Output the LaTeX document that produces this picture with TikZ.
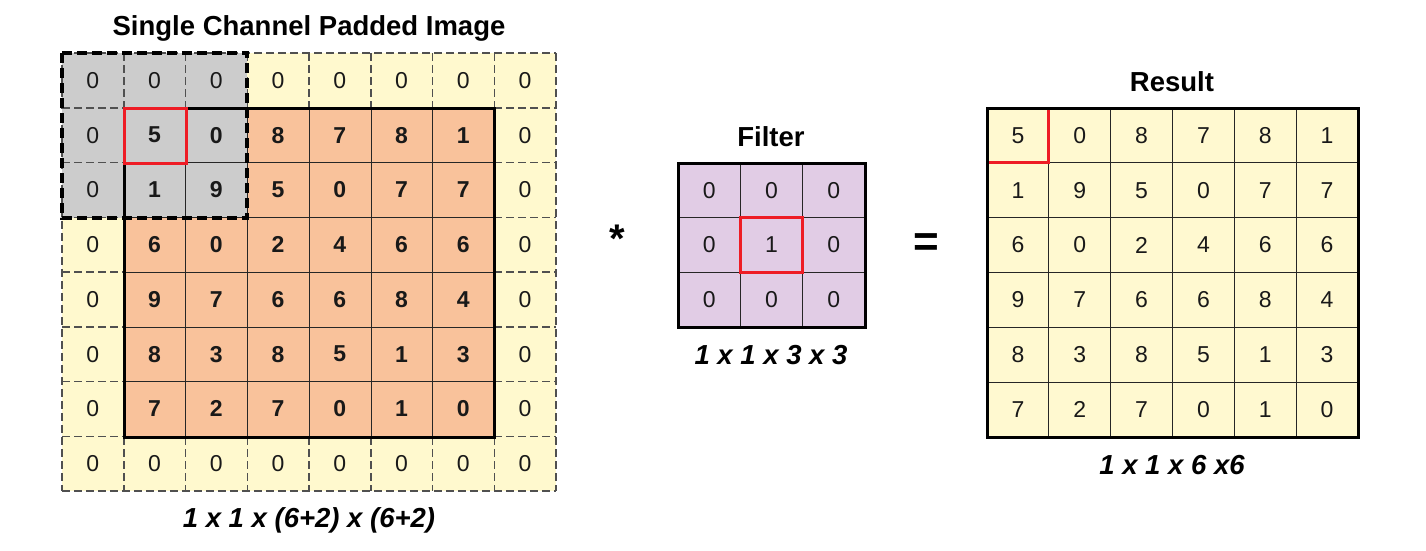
\documentclass[tikz,border=0pt]{standalone}
\usepackage{fontspec}
\setmainfont{Liberation Sans}
\definecolor{padyel}{HTML}{FFF9CE}
\definecolor{inorg}{HTML}{F9C29B}
\definecolor{wingray}{HTML}{CCCCCC}
\definecolor{filpur}{HTML}{E1CCE5}
\definecolor{resyel}{HTML}{FFF9D0}
\definecolor{redbox}{HTML}{EE1C25}
\definecolor{dashgray}{HTML}{505050}
\tikzset{
  thingrid/.style={draw=black!85, line width=0.9pt},
  dashgrid/.style={draw=dashgray, line width=1.5pt, dash pattern=on 8pt off 4pt},
  thickborder/.style={draw=black, line width=3pt},
  winborder/.style={draw=black, line width=3.2pt, dash pattern=on 10pt off 5pt},
  redsel/.style={draw=redbox, line width=3pt},
  numtxt/.style={font=\fontsize{23}{26}\selectfont, text=black!90, inner sep=0pt},
  boldnum/.style={numtxt, font=\fontsize{23}{26}\selectfont\bfseries},
  titletxt/.style={font=\fontsize{27.5}{31}\selectfont\bfseries, inner sep=0pt},
  dimtxt/.style={font=\fontsize{27.5}{31}\selectfont\bfseries\itshape, inner sep=0pt},
}
\begin{document}
\begin{tikzpicture}[x=1pt,y=-1pt]
\useasboundingbox (0,0) rectangle (1426,551);
% ---------------- padded image ----------------
\def\pw{61.75}\def\ph{54.75}
\fill[padyel] (62,53) rectangle (556,491);
\fill[inorg] (124,108) rectangle (494,437);
\fill[wingray] (62,53) rectangle (247,218);
% dashed grid (padding)
\foreach \i in {0,...,8} {
  \draw[dashgrid] ({62+\i*\pw},53) -- ({62+\i*\pw},491);
  \draw[dashgrid] (62,{53+\i*\ph}) -- (556,{53+\i*\ph});
}
% solid inner grid
\fill[inorg] (125,109) rectangle (493,436);
\fill[wingray] (125,109) rectangle (247,218);
\foreach \i in {1,...,5} {
  \draw[thingrid] ({124+\i*\pw},108) -- ({124+\i*\pw},437);
  \draw[thingrid] (124,{108+\i*\ph}) -- (494,{108+\i*\ph});
}
\draw[thickborder] (124,108) rectangle (494,437);
% numbers
\foreach \c in {0,...,7} {
  \node[numtxt] (pt\c) at ({62+(\c+0.5)*\pw},{53+0.5*\ph}) {0};
  \node[numtxt] (pb\c) at ({62+(\c+0.5)*\pw},{53+7.5*\ph}) {0};
}
\foreach \r in {1,...,6} {
  \node[numtxt] (pl\r) at ({62+0.5*\pw},{53+(\r+0.5)*\ph}) {0};
  \node[numtxt] (pr\r) at ({62+7.5*\pw},{53+(\r+0.5)*\ph}) {0};
}
\foreach \row [count=\r] in {{5,0,8,7,8,1},{1,9,5,0,7,7},{6,0,2,4,6,6},{9,7,6,6,8,4},{8,3,8,5,1,3},{7,2,7,0,1,0}} {
  \foreach \v [count=\c] in \row {
    \node[boldnum] (pi\r-\c) at ({62+(\c+0.5)*\pw},{53+(\r+0.5)*\ph}) {\v};
  }
}
\draw[winborder] (62,53) rectangle (247,218);
\draw[redsel] (124,108) rectangle (186,163);
\node[titletxt] (ptitle) at (309,28) {Single Channel Padded Image};
\node[dimtxt] (pdim) at (309,520) {1 x 1 x (6+2) x (6+2)};
% ---------------- operator signs ----------------
\node[font=\fontsize{40}{44}\selectfont\bfseries, inner sep=0pt] (star) at (617,239) {*};
\node[font=\fontsize{44}{48}\selectfont\bfseries, inner sep=0pt] (eq) at (926,245) {=};
% ---------------- filter ----------------
\def\fw{62.33}\def\fh{54.67}
\fill[filpur] (678,163) rectangle (865,327);
\foreach \i in {1,2} {
  \draw[thingrid] ({678+\i*\fw},163) -- ({678+\i*\fw},327);
  \draw[thingrid] (678,{163+\i*\fh}) -- (865,{163+\i*\fh});
}
\draw[thickborder] (678,163) rectangle (865,327);
\foreach \row [count=\r from 0] in {{0,0,0},{0,1,0},{0,0,0}} {
  \foreach \v [count=\c from 0] in \row {
    \node[numtxt] (f\r-\c) at ({678+(\c+0.5)*\fw},{163+(\r+0.5)*\fh}) {\v};
  }
}
\draw[redsel] ({678+\fw},{163+\fh}) rectangle ({678+2*\fw},{163+2*\fh});
\node[titletxt] (ftitle) at (771,137) {Filter};
\node[dimtxt] (fdim) at (771,355) {1 x 1 x 3 x 3};
% ---------------- result ----------------
\def\rw{61.83}\def\rh{54.83}
\fill[resyel] (987,108) rectangle (1358,437);
\foreach \i in {1,...,5} {
  \draw[thingrid] ({987+\i*\rw},108) -- ({987+\i*\rw},437);
  \draw[thingrid] (987,{108+\i*\rh}) -- (1358,{108+\i*\rh});
}
\foreach \row [count=\r from 0] in {{5,0,8,7,8,1},{1,9,5,0,7,7},{6,0,2,4,6,6},{9,7,6,6,8,4},{8,3,8,5,1,3},{7,2,7,0,1,0}} {
  \foreach \v [count=\c from 0] in \row {
    \node[numtxt] (r\r-\c) at ({987+(\c+0.5)*\rw},{108+(\r+0.5)*\rh}) {\v};
  }
}
\draw[redsel] (987,{108+\rh}) -- ({987+\rw},{108+\rh}) -- ({987+\rw},108);
\draw[thickborder] (987,108) rectangle (1358,437);
\node[titletxt] (rtitle) at (1172,82) {Result};
\node[dimtxt] (rdim) at (1172,465) {1 x 1 x 6 x6};
\end{tikzpicture}
\end{document}
